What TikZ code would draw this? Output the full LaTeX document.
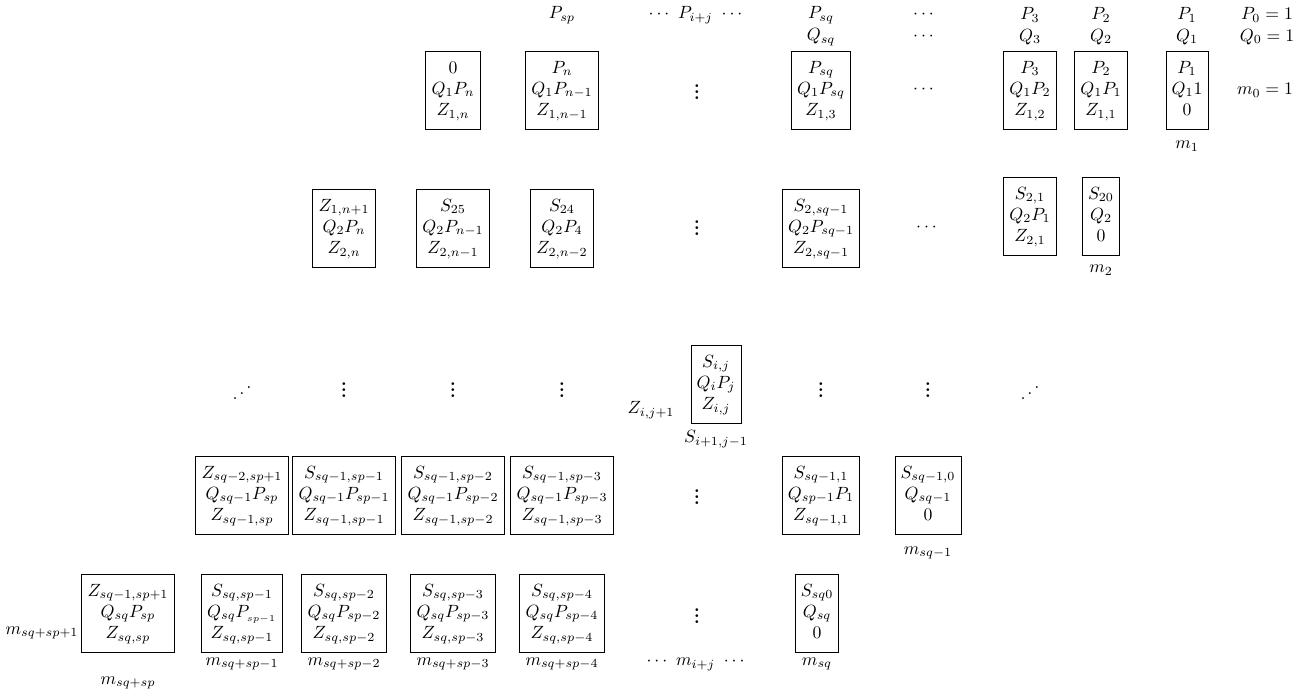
\documentclass[tikz,border=0pt]{standalone}
\usepackage{amsmath}
\usepackage{graphicx}
\begin{document}
\begin{tikzpicture}[x=0.565pt,y=-0.565pt,
  bx/.style={draw, line width=0.5pt, inner xsep=3.2pt, inner ysep=4pt},
  lb/.style={inner sep=0pt}]
\useasboundingbox (0,0) rectangle (1316,694);
\newcommand{\bm}[3]{$\begin{matrix}#1\\#2\\#3\end{matrix}$}
\newcommand{\idd}{\reflectbox{$\ddots$}}
\newcommand{\vd}{$\vcenter{\baselineskip=3.2pt\lineskiplimit=0pt\hbox{\bfseries.}\hbox{\bfseries.}\hbox{\bfseries.}}$}
% header rows
\node[lb] (psp) at (562,15) {$P_{sp}$};
\node[lb] (pij) at (697,15) {$\cdots\ P_{i+j}\ \cdots$};
\node[lb] (psq) at (821,15) {$P_{sq}$};
\node[lb] (hd1) at (925,15) {$\cdots$};
\node[lb] (p3) at (1030,15) {$P_3$};
\node[lb] (p2) at (1101,15) {$P_2$};
\node[lb] (p1) at (1187,15) {$P_1$};
\node[lb] (p0) at (1267,15) {$P_0=1$};
\node[lb] (qsq) at (821,37) {$Q_{sq}$};
\node[lb] (hd2) at (925,37) {$\cdots$};
\node[lb] (q3) at (1030,37) {$Q_3$};
\node[lb] (q2) at (1101,37) {$Q_2$};
\node[lb] (q1) at (1187,37) {$Q_1$};
\node[lb] (q0) at (1267,37) {$Q_0=1$};
% row 1
\node[bx] (a1) at (453,90) {\bm{0}{Q_1P_n}{Z_{1,n}}};
\node[bx] (a2) at (562,90) {\bm{P_n}{Q_1P_{n-1}}{Z_{1,n-1}}};
\node[lb] (av) at (697,92) {\vd};
\node[bx] (a3) at (821,90) {\bm{P_{sq}}{Q_1P_{sq}}{Z_{1,3}}};
\node[lb] (ad) at (925,90) {$\cdots$};
\node[bx] (a4) at (1030,90) {\bm{P_3}{Q_1P_2}{Z_{1,2}}};
\node[bx] (a5) at (1101,90) {\bm{P_2}{Q_1P_1}{Z_{1,1}}};
\node[bx] (a6) at (1187,90) {\bm{P_1}{Q_11}{0}};
\node[lb] (m1) at (1187,146) {$m_1$};
\node[lb] (m0) at (1265,90) {$m_0=1$};
% row 2
\node[bx] (b1) at (344,228) {\bm{Z_{1,n+1}}{Q_2P_n}{Z_{2,n}}};
\node[bx] (b2) at (453,228) {\bm{S_{25}}{Q_2P_{n-1}}{Z_{2,n-1}}};
\node[bx] (b3) at (562,228) {\bm{S_{24}}{Q_2P_4}{Z_{2,n-2}}};
\node[lb] (bv) at (697,228) {\vd};
\node[bx] (b4) at (821,228) {\bm{S_{2,sq-1}}{Q_2P_{sq-1}}{Z_{2,sq-1}}};
\node[lb] (bd) at (928,228) {$\cdots$};
\node[bx] (b5) at (1030,216) {\bm{S_{2,1}}{Q_2P_1}{Z_{2,1}}};
\node[bx] (b6) at (1101,216) {\bm{S_{20}}{Q_2}{0}};
\node[lb] (m2) at (1101,270) {$m_2$};
% row 3
\node[lb] (c0) at (242,388) {\idd};
\node[lb] (c1) at (344,390) {\vd};
\node[lb] (c2) at (453,390) {\vd};
\node[lb] (c3) at (562,390) {\vd};
\node[lb] (zij) at (651,410) {$Z_{i,j+1}$};
\node[bx] (sij) at (716,384) {\bm{S_{i,j}}{Q_iP_j}{Z_{i,j}}};
\node[lb] (sij1) at (716,439) {$S_{i+1,j-1}$};
\node[lb] (c5) at (821,390) {\vd};
\node[lb] (c6) at (928,390) {\vd};
\node[lb] (c7) at (1030,388) {\idd};
% row 4
\node[bx] (d1) at (242,495) {\bm{Z_{sq-2,sp+1}}{Q_{sq-1}P_{sp}}{Z_{sq-1,sp}}};
\node[bx] (d2) at (344,495) {\bm{S_{sq-1,sp-1}}{Q_{sq-1}P_{sp-1}}{Z_{sq-1,sp-1}}};
\node[bx] (d3) at (453,495) {\bm{S_{sq-1,sp-2}}{Q_{sq-1}P_{sp-2}}{Z_{sq-1,sp-2}}};
\node[bx] (d4) at (562,495) {\bm{S_{sq-1,sp-3}}{Q_{sq-1}P_{sp-3}}{Z_{sq-1,sp-3}}};
\node[lb] (dv) at (697,497) {\vd};
\node[bx] (d5) at (821,495) {\bm{S_{sq-1,1}}{Q_{sp-1}P_1}{Z_{sq-1,1}}};
\node[bx] (d6) at (928,495) {\bm{S_{sq-1,0}}{Q_{sq-1}}{0}};
\node[lb] (msq1) at (928,553) {$m_{sq-1}$};
% row 5
\node[lb] (mA) at (42,633) {$m_{sq+sp+1}$};
\node[bx] (e1) at (128,613) {\bm{Z_{sq-1,sp+1}}{Q_{sq}P_{sp}}{Z_{sq,sp}}};
\node[bx] (e2) at (242,613) {\bm{S_{sq,sp-1}}{Q_{sq}P_{{}_{sp-1}}}{Z_{sq,sp-1}}};
\node[bx] (e3) at (344,613) {\bm{S_{sq,sp-2}}{Q_{sq}P_{sp-2}}{Z_{sq,sp-2}}};
\node[bx] (e4) at (453,613) {\bm{S_{sq,sp-3}}{Q_{sq}P_{sp-3}}{Z_{sq,sp-3}}};
\node[bx] (e5) at (562,613) {\bm{S_{sq,sp-4}}{Q_{sq}P_{sp-4}}{Z_{sq,sp-4}}};
\node[lb] (ev) at (697,616) {\vd};
\node[bx] (e6) at (817,613) {\bm{S_{sq0}}{Q_{sq}}{0}};
\node[lb] (mB) at (128,683) {$m_{sq+sp}$};
\node[lb] (mC) at (242,664) {$m_{sq+sp-1}$};
\node[lb] (mD) at (344,664) {$m_{sq+sp-2}$};
\node[lb] (mE) at (453,664) {$m_{sq+sp-3}$};
\node[lb] (mF) at (562,664) {$m_{sq+sp-4}$};
\node[lb] (mG) at (697,664) {$\cdots\ m_{i+j}\ \cdots$};
\node[lb] (mH) at (817,664) {$m_{sq}$};
\end{tikzpicture}
\end{document}
